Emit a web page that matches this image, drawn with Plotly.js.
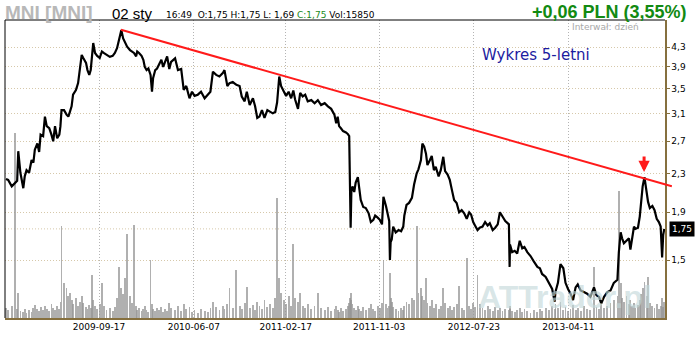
<!DOCTYPE html>
<html><head><meta charset="utf-8">
<script src="https://cdn.plot.ly/plotly-3.0.1.min.js"></script>
<style>html,body{margin:0;padding:0;background:#fff;}#chart{width:700px;height:340px;}</style>
</head><body><div id="chart"></div>
<script>
// ---------- DATA ----------
const dates = [
'2009-01-02','2009-01-08','2009-01-18','2009-01-27','2009-02-02','2009-02-05','2009-02-11','2009-02-19','2009-02-23','2009-02-28',
'2009-03-07','2009-03-14','2009-03-19','2009-03-23','2009-03-30','2009-04-04','2009-04-08','2009-04-15','2009-04-20','2009-04-25',
'2009-05-02','2009-05-08','2009-05-13','2009-05-18','2009-05-24','2009-05-30','2009-06-02','2009-06-05','2009-06-12','2009-06-19',
'2009-06-24','2009-06-28','2009-07-03','2009-07-07','2009-07-15','2009-07-21','2009-07-26','2009-07-31','2009-08-04','2009-08-12',
'2009-08-16','2009-08-21','2009-08-25','2009-08-29','2009-09-01','2009-09-06','2009-09-12','2009-09-19','2009-09-25','2009-09-30',
'2009-10-08','2009-10-17','2009-10-25','2009-10-31','2009-11-06','2009-11-12','2009-11-18','2009-11-23','2009-11-29','2009-12-04',
'2009-12-12','2009-12-17','2009-12-23','2009-12-29',
'2010-01-01','2010-01-06','2010-01-13','2010-01-18','2010-01-22','2010-01-27','2010-02-01','2010-02-07','2010-02-11','2010-02-14',
'2010-02-20','2010-02-25','2010-03-03','2010-03-09','2010-03-14','2010-03-20','2010-03-25','2010-03-31','2010-04-05','2010-04-16',
'2010-04-24','2010-05-03','2010-05-10','2010-05-17','2010-05-26','2010-06-02','2010-06-09','2010-06-18','2010-06-27','2010-07-07',
'2010-07-16','2010-07-23','2010-07-30','2010-08-08','2010-08-17','2010-08-27','2010-08-31','2010-09-08','2010-09-14','2010-09-23',
'2010-10-03','2010-10-12','2010-10-18','2010-10-26','2010-11-01','2010-11-09','2010-11-18','2010-11-24','2010-11-30','2010-12-06',
'2010-12-13','2010-12-20','2010-12-28',
'2011-01-04','2011-01-12','2011-01-19','2011-01-24','2011-01-30','2011-02-04','2011-02-12','2011-02-18','2011-02-25','2011-03-04',
'2011-03-10','2011-03-15','2011-03-23','2011-03-29','2011-04-05','2011-04-12','2011-04-19','2011-04-29','2011-05-08','2011-05-17',
'2011-05-26','2011-06-05','2011-06-14','2011-06-23','2011-07-02','2011-07-07','2011-07-11','2011-07-15','2011-07-20','2011-07-26',
'2011-08-03','2011-08-08','2011-08-12','2011-08-14','2011-08-16','2011-08-18','2011-08-21','2011-08-26','2011-08-30','2011-09-05',
'2011-09-09','2011-09-13','2011-09-20','2011-09-27','2011-10-05','2011-10-11','2011-10-18','2011-10-23','2011-10-30','2011-11-05',
'2011-11-11','2011-11-15','2011-11-22','2011-11-26','2011-12-01','2011-12-03','2011-12-05','2011-12-08','2011-12-12','2011-12-19',
'2011-12-27',
'2012-01-03','2012-01-09','2012-01-12','2012-01-18','2012-01-25','2012-02-02','2012-02-08','2012-02-15','2012-02-20','2012-02-27',
'2012-03-02','2012-03-07','2012-03-12','2012-03-16','2012-03-23','2012-03-28','2012-04-03','2012-04-08','2012-04-16','2012-04-22',
'2012-04-29','2012-05-04','2012-05-11','2012-05-17','2012-05-23','2012-05-29','2012-06-05','2012-06-12','2012-06-19','2012-06-26',
'2012-07-03','2012-07-10','2012-07-15','2012-07-21','2012-07-26','2012-08-02','2012-08-08','2012-08-16','2012-08-23','2012-08-30',
'2012-09-05','2012-09-13','2012-09-20','2012-09-27','2012-10-03','2012-10-10','2012-10-18','2012-10-28','2012-10-30','2012-10-31',
'2012-11-06','2012-11-13','2012-11-20','2012-11-27','2012-12-04','2012-12-10','2012-12-18','2012-12-27',
'2013-01-05','2013-01-15','2013-01-22','2013-01-28','2013-02-07','2013-02-16','2013-02-25','2013-03-04','2013-03-06','2013-03-13',
'2013-03-20','2013-03-28','2013-04-03','2013-04-10','2013-04-17','2013-04-24','2013-05-01','2013-05-07','2013-05-15','2013-05-24',
'2013-06-02','2013-06-11','2013-06-21','2013-06-28','2013-07-05','2013-07-11','2013-07-19','2013-07-28','2013-08-06','2013-08-15',
'2013-08-25','2013-08-29','2013-09-03','2013-09-07','2013-09-12','2013-09-19','2013-09-26','2013-09-30','2013-10-05','2013-10-10',
'2013-10-14','2013-10-21','2013-10-26','2013-10-30','2013-11-03','2013-11-08','2013-11-14','2013-11-18','2013-11-23','2013-11-30',
'2013-12-06','2013-12-12','2013-12-18','2013-12-23','2013-12-27','2013-12-30','2014-01-02'
];
const close = [
2.24,2.23,2.16,2.19,2.22,2.57,2.31,2.14,2.27,2.34,
2.31,2.46,2.43,2.59,2.67,2.56,2.79,2.77,3.05,2.91,
2.88,2.79,2.70,2.91,2.74,2.79,2.91,3.15,3.15,3.08,
3.05,3.12,3.21,3.40,3.48,3.60,3.84,4.14,4.08,3.98,
3.84,3.75,3.84,4.11,4.39,4.18,4.12,4.08,4.21,4.18,
4.15,4.10,4.12,4.18,4.28,4.49,4.68,4.49,4.39,4.31,
4.24,4.21,4.18,4.11,
4.21,4.18,4.12,4.04,3.90,3.84,3.87,3.75,3.45,3.69,
3.84,3.87,3.94,4.04,3.90,4.00,4.11,3.86,4.00,4.07,
3.84,3.86,3.48,3.55,3.34,3.45,3.38,3.40,3.45,3.34,
3.40,3.45,3.81,3.75,3.72,3.79,3.84,3.55,3.60,3.62,
3.57,3.55,3.37,3.29,3.45,3.23,3.34,3.21,3.03,3.05,
3.15,3.03,3.15,
3.12,3.10,3.12,3.27,3.72,3.55,3.45,3.38,3.45,3.34,
3.47,3.32,3.17,3.43,3.37,3.40,3.29,3.31,3.26,3.31,
3.23,3.26,3.21,3.17,3.08,2.95,3.05,2.91,2.88,2.84,
2.82,2.80,2.77,2.38,1.76,2.10,2.16,2.10,2.20,2.26,
2.14,2.02,1.95,1.94,1.89,1.81,1.83,1.87,1.85,1.83,
1.79,2.05,1.96,1.90,1.82,1.50,1.64,1.66,1.77,1.72,
1.74,
1.73,1.77,1.87,1.97,1.99,2.04,2.18,2.30,2.35,2.46,
2.67,2.63,2.54,2.40,2.46,2.51,2.34,2.38,2.27,2.34,
2.50,2.33,2.29,2.23,2.12,2.02,1.99,1.90,1.92,1.89,
1.84,1.90,1.88,1.81,1.78,1.74,1.76,1.77,1.81,1.78,
1.80,1.74,1.76,1.79,1.90,1.86,1.82,1.79,1.45,1.62,
1.56,1.57,1.55,1.65,1.59,1.60,1.56,1.53,
1.49,1.45,1.44,1.40,1.38,1.34,1.30,1.22,1.28,1.34,
1.47,1.44,1.34,1.30,1.27,1.23,1.31,1.33,1.29,1.28,
1.27,1.25,1.31,1.26,1.25,1.21,1.25,1.28,1.29,1.34,
1.36,1.56,1.72,1.67,1.63,1.65,1.67,1.58,1.69,1.77,
1.75,1.76,1.86,2.00,2.16,2.26,2.12,2.00,1.94,1.96,
1.92,1.84,1.81,1.77,1.52,1.70,1.75
];
// volume, thousands of shares
const volume = [
10,8,12,186,9,25,7,6,9,5,
8,6,10,13,9,7,11,8,12,9,
7,14,10,8,12,9,16,93,35,30,
22,25,18,14,20,12,16,22,15,11,
9,13,10,43,18,12,9,14,35,12,
8,10,7,11,20,51,30,24,40,85,
22,15,94,12,
8,10,7,9,12,8,6,58,14,9,
7,10,8,11,6,9,7,15,10,8,
12,7,14,9,11,6,8,5,9,7,
6,10,16,11,8,12,9,14,30,10,
48,12,9,15,31,10,13,8,16,12,
9,18,11,
14,10,20,121,40,25,18,14,22,12,
75,20,16,25,12,10,14,9,12,25,
10,8,11,7,9,12,8,6,10,7,
9,12,15,20,25,18,14,10,8,12,
9,7,11,8,10,14,9,7,12,10,
15,58,14,10,12,45,20,16,11,9,
7,
10,8,12,16,14,20,18,93,25,30,
22,18,40,15,12,18,10,14,9,12,
30,15,10,12,8,11,14,32,10,8,
60,12,9,15,11,43,14,10,8,12,
9,7,11,8,10,7,9,8,12,9,
7,6,8,10,6,9,7,5,
8,6,9,7,10,8,12,9,14,10,
16,8,11,7,9,13,8,10,7,12,
9,8,51,11,9,14,10,12,15,18,
22,128,35,20,16,22,14,18,12,15,
10,13,18,24,30,36,22,41,15,12,
10,14,9,12,20,11,15.85
];
const xTickDates = ['2009-09-17','2010-06-07','2011-02-17','2011-11-03','2012-07-23','2013-04-11'];
const xTickLabels = ['2009-09-17','2010-06-07','2011-02-17','2011-11-03','2012-07-23','2013-04-11'];
const yTickValues = [1.5,1.9,2.3,2.7,3.1,3.5,3.9,4.3];
const yTickLabels = ['1,5','1,9','2,3','2,7','3,1','3,5','3,9','4,3'];
const trendDates = ['2009-11-17','2014-01-23'];
const trendPrices = [4.69, 2.16];
const arrowDate = '2013-11-07';
const arrowPrice = 2.32;
const ticker = 'MNI [MNI]';
const sessionDay = '02 sty';
const quoteTime = '16:49';
const quoteOpen = 1.75, quoteHigh = 1.75, quoteLow = 1.69, quoteVol = 15850;
const changeText = '+0,06 PLN (3,55%)';
const intervalText = 'Interwał: dzień';
const chartNote = 'Wykres 5-letni';
const watermark = 'ATTrader.pl';

// ---------- LAYOUT ----------
const W = 700, H = 340;
const M = {l: 5, r: 28, t: 20, b: 22};
const plotW = W - M.l - M.r, plotH = H - M.t - M.b;
const axisRightPx = 665;
const dEnd = (axisRightPx - M.l) / plotW;
const px = x => (x - M.l) / plotW;
const py = y => (M.t + plotH - y) / plotH;
const xStart = Date.UTC(2008, 11, 30, 6);
const xEnd = Date.UTC(2014, 0, 4);
const xEnd2 = xStart + (xEnd - xStart) / dEnd;
const fmtD = ms => new Date(ms).toISOString().replace('T', ' ').replace('Z', '');
const yRange = [0.0515, 0.692];
const fmt = v => v.toFixed(2).replace('.', ',');
const last = close[close.length - 1];
const brown = '#86703f';
const dayMs = 86400000;
const font = 'DejaVu Sans, Verdana, sans-serif';

const traces = [
  {type: 'bar', x: dates, y: volume, xaxis: 'x', yaxis: 'y', width: 5 * dayMs,
   marker: {color: 'rgba(150,150,150,0.75)', line: {width: 0}}, hoverinfo: 'skip'},
  {type: 'scatter', mode: 'lines', x: dates, y: close, xaxis: 'x', yaxis: 'y2',
   line: {color: '#000', width: 2.2}},
  {type: 'scatter', mode: 'lines', x: trendDates, y: trendPrices, xaxis: 'x2', yaxis: 'y3',
   line: {color: '#ff1a1a', width: 2}}
];

const layout = {
  width: W, height: H, margin: M, showlegend: false,
  paper_bgcolor: '#fff', plot_bgcolor: 'rgba(0,0,0,0)',
  font: {family: font, size: 9, color: '#000'},
  bargap: 0,
  xaxis: {type: 'date', domain: [0, dEnd], range: [fmtD(xStart), fmtD(xEnd)], anchor: 'y2',
    tickvals: xTickDates, ticktext: xTickLabels, tickfont: {family: font, size: 9, color: '#000'},
    showgrid: true, gridcolor: '#b4b4b4', griddash: '1px,2px', gridwidth: 1,
    showline: true, linecolor: brown, linewidth: 1.5, ticks: '', zeroline: false},
  yaxis: {range: [0, 300], visible: false, fixedrange: true},
  yaxis2: {type: 'log', range: yRange, overlaying: 'y', side: 'right', anchor: 'x',
    tickvals: yTickValues, ticktext: yTickLabels, tickfont: {family: font, size: 9, color: '#000'},
    showgrid: true, gridcolor: '#d6c8aa', griddash: '1px,2px', gridwidth: 1,
    showline: true, linecolor: brown, linewidth: 1.5, ticks: 'outside', ticklen: 3, tickcolor: brown,
    zeroline: false},
  xaxis2: {type: 'date', domain: [0, 1], range: [fmtD(xStart), fmtD(xEnd2)], anchor: 'y3', visible: false},
  yaxis3: {type: 'log', domain: [0, 1], range: yRange, anchor: 'x2', visible: false},
  shapes: [
    {type: 'line', xref: 'paper', yref: 'paper', x0: 0, x1: dEnd, y0: 1, y1: 1, line: {color: '#000', width: 1}},
    {type: 'line', xref: 'paper', yref: 'paper', x0: 0, x1: 0, y0: 0, y1: 1, line: {color: '#000', width: 1}},
    {type: 'line', xref: 'paper', yref: 'y2', x0: 0, x1: dEnd, y0: last, y1: last, layer: 'below',
     line: {color: '#d6c8aa', width: 1, dash: '1px,2px'}}
  ],
  annotations: [
    {xref: 'paper', yref: 'paper', x: px(3), y: py(12), xanchor: 'left', yanchor: 'middle', showarrow: false,
     text: ticker, font: {family: 'Liberation Sans, Arial, sans-serif', size: 19, color: '#b8b8b8', weight: 'bold'}},
    {xref: 'paper', yref: 'paper', x: px(110), y: py(13), xanchor: 'left', yanchor: 'middle', showarrow: false,
     text: sessionDay, font: {family: 'Liberation Sans, Arial, sans-serif', size: 15, color: '#000'}},
    {xref: 'paper', yref: 'paper', x: px(164), y: py(15), xanchor: 'left', yanchor: 'middle', showarrow: false,
     text: quoteTime + '  O:' + fmt(quoteOpen) + ' H:' + fmt(quoteHigh) + ' L: ' + fmt(quoteLow) +
           ' <span style="color:#1a8a1a">C:' + fmt(last) + '</span> Vol:' + quoteVol,
     font: {family: font, size: 9, color: '#000'}},
    {xref: 'paper', yref: 'paper', x: px(689), y: py(12), xanchor: 'right', yanchor: 'middle', showarrow: false,
     text: changeText, font: {family: 'Liberation Sans Narrow, Liberation Sans, Arial, sans-serif', size: 18, color: '#128a12', weight: 'bold'}},
    {xref: 'paper', yref: 'paper', x: px(570), y: py(27), xanchor: 'left', yanchor: 'middle', showarrow: false,
     text: intervalText, font: {family: font, size: 9, color: '#a8a8a8'}},
    {xref: 'paper', yref: 'paper', x: px(480), y: py(55), xanchor: 'left', yanchor: 'middle', showarrow: false,
     text: chartNote, font: {family: font, size: 15, color: '#1c1ca0'}},
    {xref: 'paper', yref: 'paper', x: px(476), y: py(297), xanchor: 'left', yanchor: 'middle', showarrow: false,
     text: watermark, font: {family: 'Liberation Sans, Arial, sans-serif', size: 32, color: 'rgba(195,216,218,0.65)', weight: 'bold'}},
    {xref: 'paper', yref: 'y2', x: px(669), y: Math.log10(last), xanchor: 'left', yanchor: 'middle', showarrow: false,
     text: fmt(last), bgcolor: '#000', borderpad: 2, font: {family: font, size: 9, color: '#fff'}},
    {xref: 'x', yref: 'y2', x: arrowDate, y: Math.log10(arrowPrice), text: '', showarrow: true,
     arrowhead: 2, arrowsize: 0.75, arrowwidth: 3, arrowcolor: '#ff1a1a', ax: 0, ay: -17, standoff: 0}
  ]
};

Plotly.newPlot('chart', traces, layout, {staticPlot: true, displayModeBar: false});
</script>
</body></html>
